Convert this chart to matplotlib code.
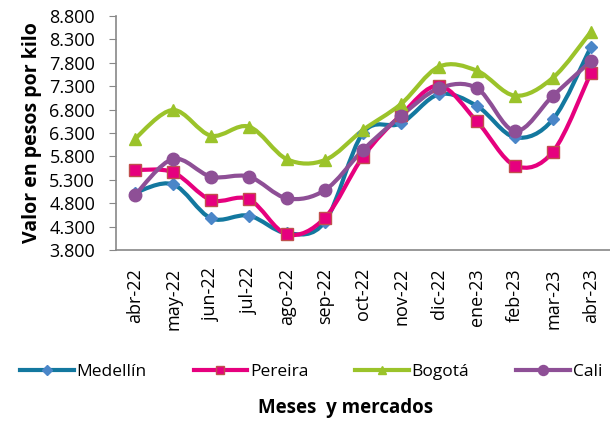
import matplotlib.pyplot as plt
from matplotlib.path import Path
from matplotlib.patches import PathPatch
from matplotlib.ticker import FuncFormatter

plt.rcParams['font.family'] = ['Open Sans', 'DejaVu Sans']

# Datos: precio por kilo en cada mercado
meses = ['abr-22', 'may-22', 'jun-22', 'jul-22', 'ago-22', 'sep-22', 'oct-22',
         'nov-22', 'dic-22', 'ene-23', 'feb-23', 'mar-23', 'abr-23']
medellin = [5024, 5204, 4477, 4534, 4157, 4405, 6300, 6507, 7127, 6877, 6208, 6593, 8144]
pereira = [5509, 5460, 4868, 4883, 4135, 4490, 5794, 6685, 7311, 6546, 5603, 5901, 7589]
bogota = [6180, 6791, 6243, 6435, 5738, 5723, 6364, 6920, 7717, 7631, 7097, 7482, 8465]
cali = [4975, 5744, 5367, 5367, 4904, 5082, 5937, 6663, 7255, 7255, 6343, 7097, 7838]

series = [
    ('Medellín', medellin, '#13789F', 'D', '#4A86C8', '#4A86C8', 6),
    ('Pereira', pereira, '#E6007E', 's', '#E6007E', '#C0504D', 8),
    ('Bogotá', bogota, '#9BC32A', '^', '#9BC32A', '#9BC32A', 8),
    ('Cali', cali, '#8E4F96', 'o', '#8E4F96', '#8E4F96', 9),
]


def smooth_path(xs, ys):
    # curva suave tipo Excel (Catmull-Rom a Bezier)
    verts = [(xs[0], ys[0])]
    codes = [Path.MOVETO]
    n = len(xs)
    for i in range(n - 1):
        x0, y0 = (xs[i - 1], ys[i - 1]) if i > 0 else (xs[i], ys[i])
        x1, y1 = xs[i], ys[i]
        x2, y2 = xs[i + 1], ys[i + 1]
        x3, y3 = (xs[i + 2], ys[i + 2]) if i + 2 < n else (x2, y2)
        c1 = (x1 + (x2 - x0) / 6, y1 + (y2 - y0) / 6)
        c2 = (x2 - (x3 - x1) / 6, y2 - (y3 - y1) / 6)
        verts += [c1, c2, (x2, y2)]
        codes += [Path.CURVE4] * 3
    return Path(verts, codes)


fig = plt.figure(figsize=(6.1, 4.21), dpi=100)
ax = fig.add_axes([116 / 610, 1 - 250 / 421, 494 / 610, 234 / 421])

x = list(range(len(meses)))
handles = []
for name, vals, lc, mk, mfc, mec, ms in series:
    ax.add_patch(PathPatch(smooth_path(x, vals), facecolor='none', edgecolor=lc, lw=3, zorder=2))
    ax.plot(x, vals, ls='none', marker=mk, ms=ms, mfc=mfc, mec=mec, zorder=3)
    h, = ax.plot([], [], color=lc, lw=3, marker=mk, ms=ms * 0.8, mfc=mfc, mec=mec)
    handles.append(h)

ax.set_xlim(-0.5, len(meses) - 0.5)
ax.set_ylim(3800, 8800)
ax.set_yticks(range(3800, 8801, 500))
ax.yaxis.set_major_formatter(FuncFormatter(lambda v, p: f'{int(v):,}'.replace(',', '.')))
ax.set_xticks(x)
ax.set_xticklabels(meses, rotation=90)
ax.tick_params(axis='x', length=0, pad=13, labelsize=13)
ax.tick_params(axis='y', length=5, color='#888888', labelsize=13, pad=10)
for s in ['top', 'right']:
    ax.spines[s].set_visible(False)
for s in ['left', 'bottom']:
    ax.spines[s].set_color('#888888')
    ax.spines[s].set_linewidth(1.2)

ax.set_ylabel('Valor en pesos por kilo', fontsize=14, fontweight='bold', labelpad=5)

fig.legend(handles, [s[0] for s in series], loc='center', bbox_to_anchor=(0.51, 1 - 372 / 421),
           ncol=4, frameon=False, fontsize=12.5, handlelength=3.1, columnspacing=2.7,
           handletextpad=0.15)
fig.text(0.566, 1 - 408 / 421, 'Meses  y mercados', ha='center', va='center',
         fontsize=13.5, fontweight='bold')

plt.savefig('out.png', dpi=100)
